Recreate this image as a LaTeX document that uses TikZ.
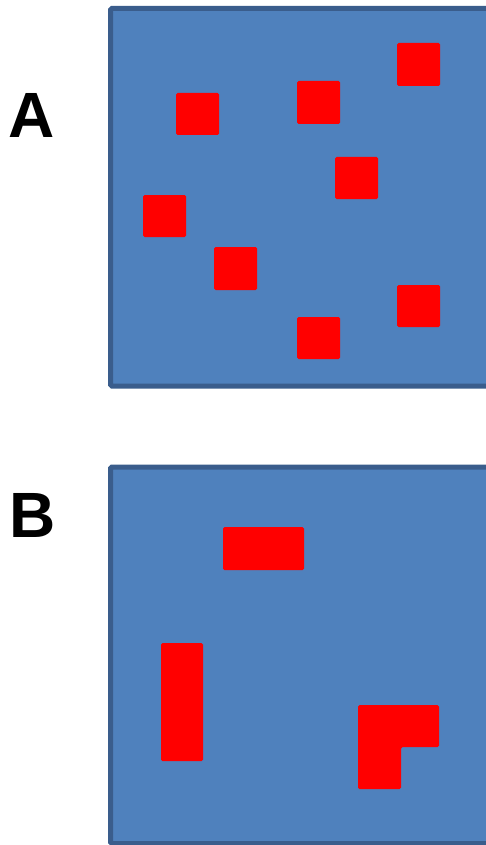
\documentclass[tikz,border=0pt]{standalone}
\usepackage{fontspec}
\setmainfont{Liberation Sans}
\usepackage{tikz}

\begin{document}
\begin{tikzpicture}[x=1pt,y=-1pt]
        
        % Define colors for panels and blocks
        \definecolor{panelfill}{HTML}{4F81BD} % Blueish fill
        \definecolor{panelline}{HTML}{3A5D8C} % Dark blue border
        \definecolor{blockred}{rgb}{1, 0, 0} % Pure red
        
        \tikzset{
          panel/.style={fill=panelfill, draw=panelline, line width=5pt, rounded corners=1.5pt},
          block/.style={fill=blockred, rounded corners=1.5pt},
          letter/.style={font=\fontsize{64}{64}\selectfont\bfseries, inner sep=0pt}
        }
        
        % Fix picture size and clip the cut-off borders
        \useasboundingbox (0,0) rectangle (486,845);
        \clip (0,0) rectangle (486,845);
        
        % Panel A
        \draw[panel] (110.5,8.5) rectangle (500,386); % Top panel
        \node[letter] (labA) at (31.5,115) {A};
        
        \fill[block] (176,93) rectangle (219,135); % Upper left
        \fill[block] (297,81) rectangle (340,124); % Upper middle
        \fill[block] (397,43) rectangle (440,86); % Upper right
        \fill[block] (335,157) rectangle (378,199); % Middle
        \fill[block] (143,195) rectangle (186,237); % Left
        \fill[block] (214,247) rectangle (257,290); % Lower left
        \fill[block] (397,285) rectangle (440,327); % Lower right
        \fill[block] (297,317) rectangle (340,359); % Bottom
        
        % Panel B
        \draw[panel] (110.5,467) rectangle (500,843.5); % Bottom panel
        \node[letter] (labB) at (32.5,515) {B};
        
        \fill[block] (223,527) rectangle (304,570); % Horizontal bar
        \fill[block] (161,643) rectangle (203,761); % Vertical bar
        \fill[block] (358,705) -- (439,705) -- (439,747) -- (401,747)
                -- (401,789) -- (358,789) -- cycle; % L shape
        
        \end{tikzpicture}
\end{document}
